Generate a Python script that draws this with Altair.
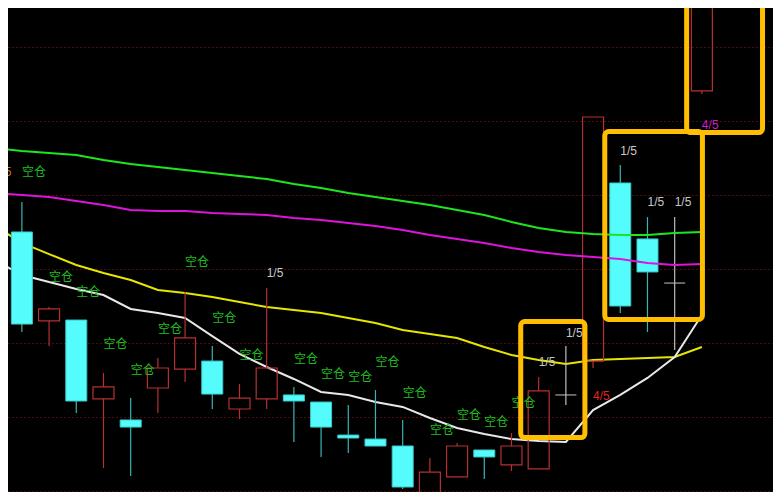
import altair as alt
import pandas as pd

# ---- candle data (price units) ----
idx = list(range(26))
open_ = [10.75, 10.149, 10.155, 9.622, 9.48, 9.696, 9.824, 9.878, 9.554, 9.622, 9.649, 9.601, 9.378,
         9.351, 9.304, 8.95, 9.095, 9.277, 9.176, 9.149, 9.649, 9.878, 11.081, 10.703, 10.405, 11.703]
high = [10.953, 10.243, 10.155, 9.797, 9.628, 9.899, 10.345, 9.98, 9.723, 10.372, 9.703, 9.601, 9.581,
        9.682, 9.48, 9.223, 9.324, 9.277, 9.392, 9.77, 9.98, 11.527, 11.203, 10.851, 10.851, 12.7]
low = [10.074, 9.98, 9.527, 9.155, 9.101, 9.527, 9.736, 9.554, 9.486, 9.554, 9.331, 9.23, 9.257,
       9.304, 9.014, 8.946, 9.095, 9.081, 9.135, 9.149, 9.581, 9.831, 10.203, 10.074, 9.953, 11.682]
close = [10.128, 10.23, 9.608, 9.703, 9.432, 9.831, 10.034, 9.655, 9.628, 9.831, 9.608, 9.432, 9.358,
         9.304, 9.027, 9.128, 9.304, 9.23, 9.304, 9.676, 9.649, 11.527, 10.25, 10.48, 10.405, 12.6]

# ---- moving averages ----
ma_idx = list(range(-1, 26))
ma_white = [10.561, 10.459, 10.412, 10.365, 10.324, 10.230, 10.203, 10.169, 10.047, 9.926, 9.838, 9.757,
            9.669, 9.649, 9.601, 9.568, 9.493, 9.426, 9.385, 9.351, 9.338, 9.331, 9.547, 9.649, 9.764,
            9.905, 10.189]
ma_yellow = [10.791, 10.676, 10.601, 10.527, 10.473, 10.426, 10.358, 10.338, 10.311, 10.277, 10.243,
             10.223, 10.203, 10.169, 10.135, 10.088, 10.061, 10.034, 9.973, 9.919, 9.885, 9.858, 9.885,
             9.892, 9.899, 9.905, 9.973]
ma_magenta = [11.014, 11.000, 10.986, 10.959, 10.932, 10.899, 10.892, 10.892, 10.878, 10.872, 10.865,
              10.845, 10.831, 10.811, 10.791, 10.764, 10.730, 10.703, 10.676, 10.642, 10.615, 10.595,
              10.581, 10.568, 10.541, 10.527, 10.534]
ma_green = [11.318, 11.297, 11.284, 11.270, 11.236, 11.209, 11.189, 11.169, 11.149, 11.128, 11.108,
            11.074, 11.047, 11.014, 10.986, 10.959, 10.932, 10.899, 10.865, 10.818, 10.777, 10.750,
            10.736, 10.730, 10.730, 10.743, 10.750]

# ---- labels ----
kc_idx = [0, 1, 2, 3, 4, 5, 6, 7, 8, 10, 11, 12, 13, 14, 15, 16, 17, 18]
kc_price = [11.155, 10.446, 10.345, 9.993, 9.818, 10.095, 10.547, 10.169, 9.919, 9.892, 9.791, 9.77,
            9.872, 9.662, 9.412, 9.514, 9.466, 9.595]
kc_text = "空仓"

frac_idx = [9, 19, 20, 22, 23, 24]
frac_price = [10.473, 9.872, 10.068, 11.297, 10.953, 10.953]
frac_text = "1/5"

sig_idx = [21, 25, -1]
sig_price = [9.642, 11.473, 11.155]
sig_text = ["4/5", "4/5", "1/5"]
sig_color = ["#E02424", "#C81EC8", "#C8782A"]

# ---- highlight boxes ----
box_x0 = [18.34, 21.43, 24.44]
box_x1 = [20.70, 25.02, 27.23]
box_top = [10.145, 11.429, 12.40]
box_bot = [9.361, 10.159, 11.422]

grid_values = [9.0, 9.5, 10.0, 10.5, 11.0, 11.5, 12.0]

candles = pd.DataFrame({"i": idx, "open": open_, "high": high, "low": low, "close": close})
candles["kind"] = ["up" if c > o else ("down" if c < o else "doji") for o, c in zip(open_, close)]
candles["top"] = [max(o, c) for o, c in zip(open_, close)]
candles["bot"] = [min(o, c) for o, c in zip(open_, close)]

ma = pd.DataFrame({"i": ma_idx, "white": ma_white, "yellow": ma_yellow,
                   "magenta": ma_magenta, "green": ma_green})
kc = pd.DataFrame({"i": kc_idx, "p": kc_price, "t": [kc_text] * len(kc_idx)})
frac = pd.DataFrame({"i": frac_idx, "p": frac_price, "t": [frac_text] * len(frac_idx)})
sig = pd.DataFrame({"i": sig_idx, "p": sig_price, "t": sig_text, "c": sig_color})
boxes = pd.DataFrame({"x0": box_x0, "x1": box_x1, "y0": box_bot, "y1": box_top})

xs = alt.Scale(domain=[-0.32656, 27.4311], nice=False, zero=False)
ys = alt.Scale(domain=[8.99324, 12.26351], nice=False, zero=False)
yaxis = alt.Axis(values=grid_values, grid=True, gridColor="#9A1818", gridDash=[1, 3], gridWidth=1,
                 gridOpacity=1, labels=False, ticks=False, domain=False, title=None)


def X(f):
    return alt.X(f, type="quantitative", scale=xs, axis=None)


def Y(f):
    return alt.Y(f, type="quantitative", scale=ys, axis=yaxis)


wick_color = alt.Color("kind:N", scale=alt.Scale(domain=["up", "down", "doji"],
                                                  range=["#B83030", "#3CB4B4", "#BEBEBE"]), legend=None)

base_c = alt.Chart(candles)

upper = base_c.mark_rule(strokeWidth=1.2, clip=True).encode(
    x=X("i"), y=Y("high"), y2="top", color=wick_color)
lower = base_c.mark_rule(strokeWidth=1.2, clip=True).encode(
    x=X("i"), y=Y("bot"), y2="low", color=wick_color)
down_body = base_c.transform_filter("datum.kind == 'down'").mark_bar(
    size=21, fill="#54FCFC", stroke="#3CC8C8", strokeWidth=1, clip=True).encode(
    x=X("i"), y=Y("top"), y2="bot")
up_body = base_c.transform_filter("datum.kind == 'up'").mark_bar(
    size=21, fill="#000000", fillOpacity=0, stroke="#B83030", strokeWidth=1.2, clip=True).encode(
    x=X("i"), y=Y("top"), y2="bot")
doji = base_c.transform_filter("datum.kind == 'doji'").mark_tick(
    orient="horizontal", size=21, thickness=1.5, color="#BEBEBE", clip=True).encode(
    x=X("i"), y=Y("open"))

base_m = alt.Chart(ma)


def ma_line(col, color):
    return base_m.mark_line(color=color, strokeWidth=2, clip=True).encode(x=X("i"), y=Y(col))


kc_txt = alt.Chart(kc).mark_text(align="left", baseline="middle", font="Noto Sans CJK SC",
                                 fontSize=12, color="#1FBF1F", clip=True).encode(
    x=X("i"), y=Y("p"), text="t:N")
frac_txt = alt.Chart(frac).mark_text(align="left", baseline="middle", font="Liberation Sans",
                                     fontSize=12, color="#C8C8C8", clip=True).encode(
    x=X("i"), y=Y("p"), text="t:N")
sig_txt = alt.Chart(sig).mark_text(align="left", baseline="middle", font="Liberation Sans",
                                   fontSize=12, clip=True).encode(
    x=X("i"), y=Y("p"), text="t:N", color=alt.Color("c:N", scale=None))
box_marks = alt.Chart(boxes).mark_rect(fillOpacity=0, stroke="#FFBF00", strokeWidth=5,
                                       cornerRadius=4, clip=True).encode(
    x=X("x0"), x2="x1", y=Y("y0"), y2="y1")

chart = alt.layer(
    ma_line("yellow", "#E6E600"),
    ma_line("white", "#E8E8E8"),
    upper, lower, up_body, down_body, doji,
    ma_line("green", "#1EE61E"),
    ma_line("magenta", "#DC14DC"),
    kc_txt, frac_txt, sig_txt, box_marks,
).properties(
    width=765, height=484, background="#000000", padding=0,
    autosize=alt.AutoSizeParams(type="fit", contains="padding"),
).configure_view(stroke=None).configure_axis(
    gridColor="#9A1818", gridDash=[1, 3], gridOpacity=1
)

chart.save("out.html", embed_options={"renderer": "svg", "actions": False})
